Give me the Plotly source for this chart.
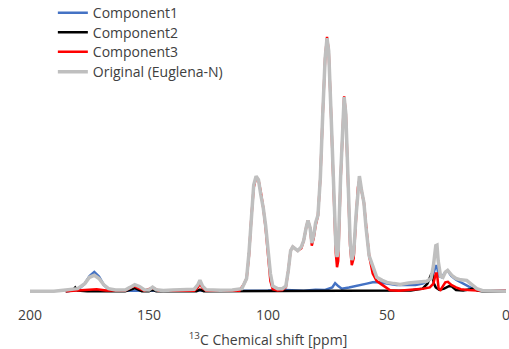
import plotly.graph_objects as go

# Original (Euglena-N) - gray
orig_ppm = [200, 190, 185, 180, 177, 175, 173, 171, 169, 167, 164, 160, 158, 156, 154, 152, 150, 148.5, 147, 144,
            140, 135, 131, 129.5, 128.6, 127.5, 126, 120, 115, 111, 109, 108, 107, 106, 105, 104, 103, 102, 101,
            100, 99, 98, 96, 94, 92.5, 91.5, 90.5, 89.6, 88.5, 87.5, 86, 85, 84, 83.2, 82.3, 81.6, 80.8, 80, 79,
            78, 77, 76, 75.2, 74.5, 73.5, 72.5, 71.5, 71, 70.5, 69.5, 68.5, 68, 67.3, 66.5, 65.5, 64.8, 64, 63,
            62.2, 61.6, 60.7, 59.7, 58.8, 57.5, 56, 54.3, 52, 50, 47, 44.5, 41, 37.5, 33.3, 31.5, 30.5, 29.5, 29,
            28.5, 27.5, 26.5, 25.5, 24.5, 23.5, 22.5, 21, 19, 16.5, 14, 12.3, 10, 5, 0]
orig_val = [0, 0, 0.5, 1, 3, 5.5, 6.3, 5, 2.5, 1, 0.5, 0.5, 1.5, 2.6, 1.8, 0.6, 0.5, 1.6, 0.6, 0.3,
            0.5, 0.5, 0.8, 2.5, 4.3, 2, 0.6, 0.4, 0.5, 1, 5, 15, 30, 42, 45.5, 44, 38, 33, 26,
            16, 7, 2, 1, 1, 2, 8, 16, 17.5, 16.5, 16, 17.5, 20, 25, 28, 25, 19, 22, 27, 30,
            45, 70, 92, 100, 95, 70, 40, 18, 13.5, 16, 45, 70, 76.7, 70, 45, 20, 12.3, 15, 30,
            42, 45.5, 40, 35, 25, 14, 10, 5.5, 4.3, 3.5, 3, 2.7, 3.2, 3.4, 3.9, 5, 10, 18, 18.2,
            12, 6, 5.5, 7.5, 8.2, 7, 6, 5, 4.5, 4.3, 2.5, 1, 0.3, 0, 0]

# Component1 - blue
c1_ppm = [185, 180, 177, 175, 173, 171, 169, 167, 164, 150, 130, 110, 100, 95, 90, 85, 80, 76, 73, 71.8,
          70.5, 69, 66, 63, 60, 58.5, 56, 54.3, 50, 46, 42, 38, 35, 32, 30.5, 29.5, 29, 28.3, 27, 25.5,
          24.4, 23, 21, 19, 16.5, 14, 12, 8, 0]
c1_val = [0, 0.5, 3, 6, 7.6, 5.8, 2.5, 0.7, 0.2, 0.2, 0.2, 0.3, 0.3, 0.6, 0.3, 0.2, 0.6, 0.5, 1.5, 3.2,
          2, 1, 1.5, 2, 2.5, 3, 3.5, 3.6, 3, 2.5, 2.5, 2.5, 3, 4.5, 7, 10, 10, 6, 5.5, 7.5,
          8, 6, 4.5, 3.5, 2.5, 1, 0.4, 0.2, 0.2]

# Component2 - black
c2_ppm = [185, 182, 181, 180, 176, 160, 157, 156, 155, 153, 150, 149, 148, 147, 130, 128.6, 127, 50, 40, 35,
          33, 31.5, 31, 30.3, 29.5, 28, 26, 24, 23, 21, 18, 15, 13.8, 12, 10, 0]
c2_val = [0, 0.3, 1.5, 0.3, 0, 0, 0.8, 1.2, 0.8, 0, 0, 0.4, 0.4, 0, 0, 0.6, 0, 0, 0.3, 1,
          3, 6.5, 7, 3, 1.5, 0.5, 1, 2, 2, 0.5, 0.3, 0.8, 1.1, 0.3, 0, 0]

# Component3 - red
c3_ppm = [185, 180, 175, 172, 168, 160, 157.5, 156, 154.5, 152, 149, 148, 146, 131, 129.5, 128.6, 127.5, 126,
          112, 110, 109, 108, 107, 106, 105, 104, 103, 102, 101, 100, 99, 98, 96, 94, 92.5, 91.5, 90.5,
          89.6, 88.5, 87.5, 86, 85, 84, 83.2, 82.3, 81.6, 80.8, 80, 79, 78, 77, 76, 75.2, 74.5, 73.5, 72.5,
          71.5, 71, 70.5, 69.5, 68.5, 68, 67.3, 66.5, 65.5, 64.8, 64, 63, 62.2, 61.6, 60.7, 59.7, 58.8,
          57.5, 56, 54.3, 52, 50, 48.7, 45, 40, 35, 32, 30.5, 29.5, 29, 28.3, 27.5, 26.5, 25.5, 24.4, 23,
          21, 19, 16, 10, 0]
c3_val = [0, 0.3, 0.8, 0.8, 0.3, 0.3, 1.5, 2, 1.2, 0.2, 1.2, 1.2, 0.2, 0.2, 1.5, 3, 1.2, 0.2,
          0.2, 3, 5, 14, 29, 41, 45, 44, 39, 33, 25, 14, 4, 0.8, 0.3, 0.5, 1.5, 8, 16,
          17.5, 16.5, 16, 17, 20, 25, 28, 25, 18, 21, 26, 30, 45, 70, 92, 100.5, 95, 70, 38,
          15, 9.5, 12, 44, 70, 77, 70, 44, 18, 10.3, 13, 29, 41, 44, 40, 35, 26,
          14, 7, 4, 2.5, 1.2, 0.4, 0.2, 0.5, 1, 1.5, 3, 7, 7, 1, 0.5, 2, 3.5, 3.7, 2.5,
          1.5, 0.8, 0.5, 0.2, 0.2]

x_ticks = [200, 150, 100, 50, 0]

font_family = "Open Sans, Noto Sans, sans-serif"
text_color = "#404040"

fig = go.Figure()
fig.add_trace(go.Scatter(x=c1_ppm, y=c1_val, mode="lines", name="Component1",
                         line=dict(color="#4472C4", width=2.5), legend="legend"))
fig.add_trace(go.Scatter(x=c2_ppm, y=c2_val, mode="lines", name="Component2",
                         line=dict(color="#000000", width=2.5), legend="legend2"))
fig.add_trace(go.Scatter(x=c3_ppm, y=c3_val, mode="lines", name="Component3",
                         line=dict(color="#FF0000", width=2.5), legend="legend3"))
fig.add_trace(go.Scatter(x=orig_ppm, y=orig_val, mode="lines", name="Original (Euglena-N)",
                         line=dict(color="#BFBFBF", width=3.5), legend="legend4"))

def leg(y):
    return dict(x=0.048, y=y, xanchor="left", yanchor="middle",
                bgcolor="rgba(0,0,0,0)", font=dict(size=14, color=text_color, family=font_family),
                itemwidth=30)

fig.update_layout(
    width=509, height=349,
    margin=dict(l=30, r=3, t=28, b=54, autoexpand=False),
    paper_bgcolor="white", plot_bgcolor="white",
    font=dict(family=font_family, size=14, color=text_color),
    showlegend=True,
    legend=leg(1.0560),
    legend2=leg(0.9830),
    legend3=leg(0.9100),
    legend4=leg(0.8350),
    xaxis=dict(range=[200, 0], tickvals=x_ticks, ticktext=[str(v) for v in x_ticks],
               showgrid=False, zeroline=False, showline=False, ticks="",
               ticklabeloverflow="allow", ticklabelstandoff=10,
               tickfont=dict(size=14, color=text_color),
               title=dict(text="<sup>13</sup>C Chemical shift [ppm]", font=dict(size=14, color=text_color),
                          standoff=12)),
    yaxis=dict(range=[-1.5, 104.03], visible=False, showgrid=False, zeroline=False),
)

fig.write_html("out.html")
